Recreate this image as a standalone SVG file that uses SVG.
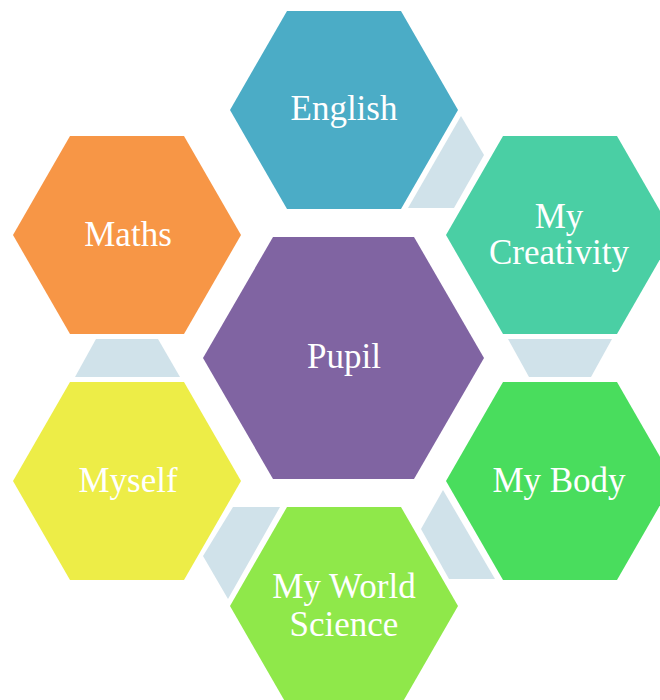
<svg xmlns="http://www.w3.org/2000/svg" width="660" height="700" viewBox="0 0 660 700">
<style>
.lbl{font-family:"Liberation Serif","Times New Roman",serif;font-size:35px;fill:#ffffff;text-anchor:middle}
.con{fill:#D0E2EA}
</style>
<rect width="660" height="700" fill="#ffffff"/>
<g id="connectors">
<polygon class="con" points="461,116 484,155 454,208 408,208"/>
<polygon class="con" points="508,339 612,339 591,377 529,377"/>
<polygon class="con" points="443,490 495,579 449,579 421,529"/>
<polygon class="con" points="233,507 280,507 228,599 203,556"/>
<polygon class="con" points="96,339 158,339 180,377 75,377"/>
</g>
<g id="english">
<polygon points="230,110 287,11 401,11 458,110 401,209 287,209" fill="#4BACC6"/>
<text class="lbl" x="344" y="120">English</text>
</g>
<g id="creativity">
<polygon points="446,235 503,136 617,136 674,235 617,334 503,334" fill="#4ACFA4"/>
<text class="lbl" x="559" y="228">My</text>
<text class="lbl" x="559" y="264">Creativity</text>
</g>
<g id="body">
<polygon points="446,481 503,382 617,382 674,481 617,580 503,580" fill="#49DD5D"/>
<text class="lbl" x="559" y="492">My Body</text>
</g>
<g id="world">
<polygon points="230,606 287,507 401,507 458,606 401,705 287,705" fill="#8FE84A"/>
<text class="lbl" x="344" y="598">My World</text>
<text class="lbl" x="344" y="636">Science</text>
</g>
<g id="myself">
<polygon points="13,481 70,382 184,382 241,481 184,580 70,580" fill="#EDED47"/>
<text class="lbl" x="128" y="492">Myself</text>
</g>
<g id="maths">
<polygon points="13,235 70,136 184,136 241,235 184,334 70,334" fill="#F79646"/>
<text class="lbl" x="128" y="246">Maths</text>
</g>
<g id="pupil">
<polygon points="203,358 273,237 414,237 484,358 414,479 273,479" fill="#8064A2"/>
<text class="lbl" x="344" y="368">Pupil</text>
</g>
</svg>
